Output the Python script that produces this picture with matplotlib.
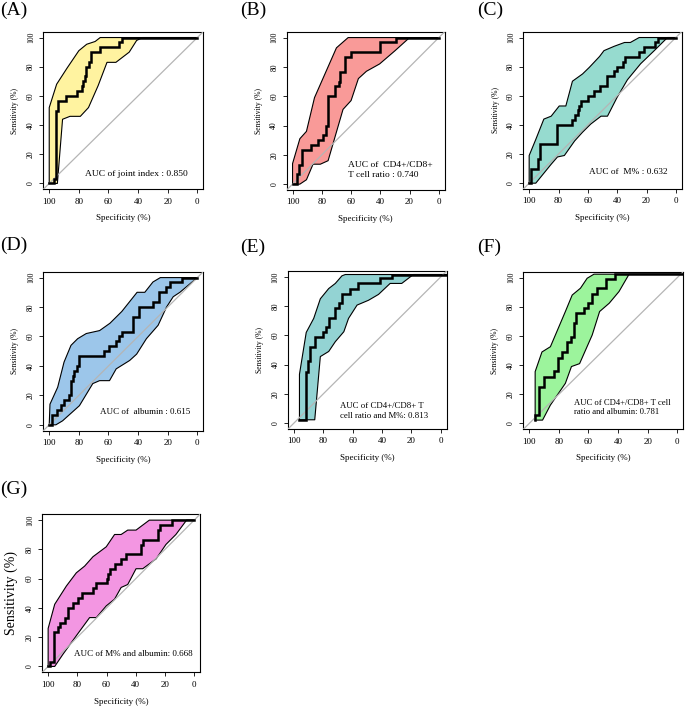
import matplotlib
matplotlib.use("Agg")
import matplotlib.pyplot as plt
import numpy as np

# ---------------- data ----------------
ticks = [0, 20, 40, 60, 80, 100]
tick_labels = ["0", "20", "40", "60", "80", "100"]

# Panel A : joint index
a_roc_spec = [100, 97, 95.5, 94, 89, 81, 78, 77, 76, 75, 73, 72, 66, 53, 51, 0]
a_roc_sens = [0, 3.3, 50, 56.7, 60, 63.3, 66.7, 70, 73.3, 80, 83.3, 90, 93.3, 96.7, 100, 100]
a_up_spec = [100, 100, 95, 88, 80, 74.7, 69, 65.6, 0]
a_up_sens = [0, 52, 68, 79, 91, 95.4, 97.3, 100, 100]
a_lo_spec = [100, 94.5, 91, 86, 79, 73.5, 67, 61, 55, 46, 41, 37, 0]
a_lo_sens = [0, 0, 44, 46, 46, 52, 67, 83, 83, 90, 98, 100, 100]

# Panel B : CD4+/CD8+ T cell ratio
b_roc_spec = [100, 97.3, 95.5, 93.4, 87.5, 82.5, 79, 77, 75.7, 70.7, 68.5, 67.5, 64, 60, 40.5, 29, 0]
b_roc_sens = [0, 6.7, 13.3, 23.3, 26.7, 30, 33.3, 40, 60, 66.7, 70, 76.7, 86.7, 90, 96.7, 100, 100]
b_up_spec = [100, 100, 95, 90.5, 85, 70, 62, 0]
b_up_sens = [0, 14, 31, 36, 59, 93, 100, 100]
b_lo_spec = [100, 95, 90.5, 86, 81, 75.7, 65.5, 60, 55, 49.5, 40.5, 30, 20, 0]
b_lo_sens = [0, 0, 3, 13.6, 13.6, 16, 51, 57, 72, 77, 82, 91, 100, 100]

# Panel C : M%
c_roc_spec = [100, 99, 94.3, 92.5, 81, 71, 69, 67, 66, 64.5, 60, 56, 52, 46.6, 42, 40, 36, 35, 25, 21.6, 14, 12.5, 0]
c_roc_sens = [0, 10, 16.7, 26.7, 40, 43.3, 46.7, 50, 53.3, 56.7, 60, 63.3, 66.7, 73.3, 76.7, 80, 83.3, 86.7, 90, 93.3, 96.7, 100, 100]
c_up_spec = [100, 100, 95.5, 90, 85, 79.5, 75, 70.5, 63.6, 59, 52, 49, 42, 35, 31, 25, 0]
c_up_sens = [0, 19, 30, 44, 46, 53, 53, 70, 75, 79.5, 87, 91, 94, 96.6, 96.6, 100, 100]
c_lo_spec = [100, 95.5, 85, 80.7, 76, 69, 63.6, 58, 51, 46.6, 40, 33, 24, 14.7, 5.7, 0]
c_lo_sens = [0, 0, 13, 18, 19, 29, 35, 40.6, 46, 46, 59, 71, 82, 91, 100, 100]

# Panel D : albumin
d_roc_spec = [100, 98.2, 94.5, 92, 90, 86.4, 85.3, 84, 83, 81, 79.6, 62.7, 59.5, 54.8, 53, 50.7, 43.4, 39.5, 30, 26, 21.5, 18.5, 10.6, 0]
d_roc_sens = [0, 6.7, 10, 13.3, 16.7, 20, 30, 33.3, 36.7, 40, 46.7, 50, 53.3, 56.7, 60, 63.3, 73.3, 80, 83.3, 90, 93.3, 96.7, 100, 100]
d_up_spec = [100, 99.5, 94.3, 90, 85.3, 80.8, 75, 66, 59, 51, 40.7, 35.5, 30, 25, 0]
d_up_sens = [0, 14, 25.5, 42.6, 54, 58.5, 62, 64, 69, 77, 90, 90, 97, 100, 100]
d_lo_spec = [100, 95.5, 91, 79.6, 70.6, 66, 59.3, 54.8, 45.7, 41, 34.4, 26.5, 20.8, 16.3, 11.8, 0]
d_lo_sens = [0, 0, 2.7, 13, 28, 30, 30, 38, 43.7, 48, 58.5, 67.6, 80, 87, 90, 100]

# Panel E : CD4+/CD8+ T cell ratio and M%
e_roc_spec = [96.2, 91.6, 90.3, 89.2, 85.3, 80, 78, 75.8, 72.2, 69.5, 67, 61.6, 56.4, 41.3, 33.4, -4]
e_roc_sens = [2.3, 35.2, 42.5, 52.3, 59, 62.5, 65.5, 72, 79, 82, 88.6, 92, 95.5, 98.9, 101.6, 101.6]
e_up_spec = [96.2, 96.2, 91.6, 86.5, 82, 76.3, 71.8, 67.3, 65, -4]
e_up_sens = [2.3, 33.4, 62, 71.6, 85, 92, 95.5, 100.7, 101.6, 101.6]
e_lo_spec = [96.2, 85.8, 82, 76.3, 71.8, 66, 62.8, 57, 49.2, 42.4, 34.5, 26.6, 18.7, -4]
e_lo_sens = [2.3, 2.3, 45.5, 49, 55.7, 62.5, 71.6, 80.7, 84, 88, 95.5, 95.5, 101.6, 101.6]

# Panel F : CD4+/CD8+ T cell ratio and albumin
f_roc_spec = [96, 96, 93.2, 90.3, 83, 80.8, 77.6, 74.2, 71.8, 70, 68.3, 62.7, 60, 57.4, 54, 48.2, 42.4, -4]
f_roc_sens = [2.3, 5.7, 25.2, 32, 36, 45, 49, 56, 59, 68.6, 75.5, 79.4, 82.4, 88.6, 92.7, 98.9, 102.3, 102.3]
f_up_spec = [96, 96, 91.4, 85.7, 75.6, 71, 65.4, 60.9, 56.3, -4]
f_up_sens = [2.3, 35.5, 49, 52.6, 76.7, 88, 92.7, 99.5, 102.3, 102.3]
f_lo_spec = [96, 91, 85.7, 75.6, 71.5, 66, 57.5, 52.5, 46, 39.4, 32.6, -4]
f_lo_sens = [2.3, 2.3, 12.6, 27.5, 39, 41, 60.6, 76.7, 82.4, 90.4, 102.3, 102.3]

# Panel G : M% and albumin
g_roc_spec = [100, 98.9, 96.1, 93, 91.6, 88.2, 86.4, 83, 79.3, 76.5, 69, 67.5, 60, 59, 57.5, 54, 50, 46.6, 36.4, 35, 25, 23.4, 15.5, 0]
g_roc_sens = [0, 3.3, 23.3, 26.7, 30, 33.3, 40, 43.3, 46.7, 50, 53.3, 56.7, 60, 63.3, 66.7, 70, 73.3, 76.7, 83.3, 86.7, 93.3, 96.7, 100, 100]
g_up_spec = [100, 100, 95.5, 87.5, 80.7, 75, 69.3, 60.2, 54.5, 50, 45.5, 39.8, 30.7, 0]
g_up_sens = [0, 26, 42.5, 55, 64, 68.6, 75, 81.8, 90.2, 90.2, 93.2, 93.2, 100, 100]
g_lo_spec = [100, 95.5, 89.8, 80.7, 71.6, 67, 60.2, 54.5, 50, 45.5, 39.8, 35.2, 26, 19.3, 12.5, 5.2, 0]
g_lo_sens = [0, 0, 8.4, 21, 33.4, 33.4, 41.4, 46, 54, 56, 66.8, 66.8, 73.6, 83.4, 90.2, 100, 100]

panel_letters = ["(A)", "(B)", "(C)", "(D)", "(E)", "(F)", "(G)"]
auc_texts = [
    "AUC of joint index : 0.850",
    "AUC of  CD4+/CD8+\nT cell ratio : 0.740",
    "AUC of  M% : 0.632",
    "AUC of  albumin : 0.615",
    "AUC of CD4+/CD8+ T\ncell ratio and M%: 0.813",
    "AUC of CD4+/CD8+ T cell\nratio and albumin: 0.781",
    "AUC of M% and albumin: 0.668",
]
auc_sizes = [6.8, 6.8, 6.7, 6.5, 6.3, 6.2, 6.5]
fill_colors = ["#FFF3A0", "#F99A98", "#96DBCF", "#9CC6EA", "#93D3D3", "#9CF49C", "#F396E2"]

# ---------------- layout (pixels) ----------------
W, H = 685, 708
FONT = "Liberation Serif"

boxes = [  # left, top, right, bottom in pixels
    (43.3, 31.7, 203.3, 189.3),
    (286.7, 31.7, 444.7, 190.0),
    (523.3, 31.7, 681.7, 189.0),
    (43.3, 271.7, 203.3, 430.7),
    (288.0, 271.0, 446.7, 429.0),
    (523.3, 271.7, 683.3, 429.3),
    (42.3, 514.3, 200.0, 672.3),
]
letter_pos = [(0, 2), (240, 2), (477, 2), (0, 237), (240, 239), (477, 239), (0, 481)]
auc_pos = [  # x (spec), y (sens), ha
    (41, 6.5, "center"),
    (62, 9.4, "left"),
    (32.5, 7.5, "center"),
    (35.5, 8.4, "center"),
    (68.8, 8.5, "left"),
    (70, 10.9, "left"),
    (41.8, 8.4, "center"),
]

rocs = [
    (a_roc_spec, a_roc_sens, a_up_spec, a_up_sens, a_lo_spec, a_lo_sens),
    (b_roc_spec, b_roc_sens, b_up_spec, b_up_sens, b_lo_spec, b_lo_sens),
    (c_roc_spec, c_roc_sens, c_up_spec, c_up_sens, c_lo_spec, c_lo_sens),
    (d_roc_spec, d_roc_sens, d_up_spec, d_up_sens, d_lo_spec, d_lo_sens),
    (e_roc_spec, e_roc_sens, e_up_spec, e_up_sens, e_lo_spec, e_lo_sens),
    (f_roc_spec, f_roc_sens, f_up_spec, f_up_sens, f_lo_spec, f_lo_sens),
    (g_roc_spec, g_roc_sens, g_up_spec, g_up_sens, g_lo_spec, g_lo_sens),
]

fig = plt.figure(figsize=(W / 100, H / 100), dpi=100)

for i in range(7):
    l, t, r, b = boxes[i]
    ax = fig.add_axes([l / W, 1 - b / H, (r - l) / W, (b - t) / H])
    rs, rv, us, uv, ls_, lv = rocs[i]

    poly_x = list(us) + list(ls_)[::-1]
    poly_y = list(uv) + list(lv)[::-1]
    ax.fill(poly_x, poly_y, facecolor=fill_colors[i], edgecolor="none", zorder=1)
    ax.plot(us, uv, color="black", lw=0.8, zorder=2)
    ax.plot(ls_, lv, color="black", lw=0.8, zorder=2)
    ax.axline((100, 0), (0, 100), color="#B5B5B5", lw=0.9, zorder=3)
    ax.step(rs, rv, where="post", color="black", lw=1.8, zorder=4,
            solid_joinstyle="miter")

    ax.set_xlim(104, -4)
    ax.set_ylim(-4, 104)
    ax.set_xticks(ticks)
    ax.set_xticklabels(tick_labels, fontfamily=FONT, fontsize=6.5)
    ax.set_yticks(ticks)
    ax.set_yticklabels(tick_labels, fontfamily=FONT, fontsize=5.5,
                       rotation=90, va="center")
    ax.tick_params(direction="out", length=3, width=0.6, pad=3)
    for s in ax.spines.values():
        s.set_linewidth(0.8)

    ax.set_xlabel("Specificity (%)", fontfamily=FONT, fontsize=6.5)
    ax.xaxis.set_label_coords(0.5, -0.185)
    ax.xaxis.label.set_va("center")
    if i == 6:
        ax.set_ylabel("Sensitivity (%)", fontfamily=FONT, fontsize=10)
        ax.yaxis.set_label_coords(-0.195, 0.5)
    else:
        ax.set_ylabel("Sensitivity (%)", fontfamily=FONT, fontsize=5.5)
        ax.yaxis.set_label_coords(-0.175, 0.5)
    ax.yaxis.label.set_va("center")

    x, y, ha = auc_pos[i]
    ax.text(x, y, auc_texts[i], fontfamily=FONT, fontsize=auc_sizes[i], ha=ha,
            va="center", linespacing=1.3, zorder=5)

    lx, ly = letter_pos[i]
    fig.text(lx / W, 1 - ly / H, panel_letters[i], fontfamily=FONT,
             fontsize=14, ha="left", va="top")

fig.savefig("out.png", dpi=100)
